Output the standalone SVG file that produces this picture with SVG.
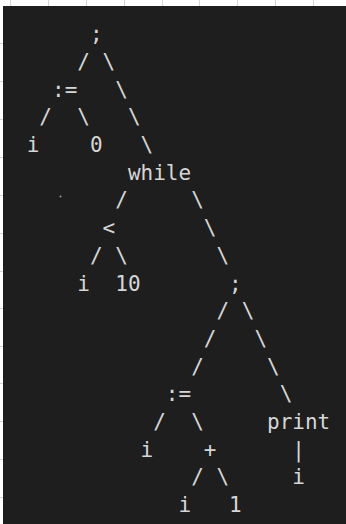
<svg xmlns="http://www.w3.org/2000/svg" width="346" height="524" viewBox="0 0 346 524">
  <style>
    .t { font-family: "DejaVu Sans Mono", "Liberation Mono", monospace; font-size: 21px; fill: #d6d6d6; }
    .grid { stroke: #d4d4d4; stroke-width: 1; }
  </style>
  <rect x="0" y="0" width="346" height="524" fill="#ffffff"/>
  <g id="grid" class="grid">
    <line x1="10.5" y1="0" x2="10.5" y2="6"/>
    <line x1="48.5" y1="0" x2="48.5" y2="6"/>
    <line x1="86.5" y1="0" x2="86.5" y2="6"/>
    <line x1="124.5" y1="0" x2="124.5" y2="6"/>
    <line x1="162.5" y1="0" x2="162.5" y2="6"/>
    <line x1="199.5" y1="0" x2="199.5" y2="6"/>
    <line x1="237.5" y1="0" x2="237.5" y2="6"/>
    <line x1="275.5" y1="0" x2="275.5" y2="6"/>
    <line x1="313.5" y1="0" x2="313.5" y2="6"/>
    <line x1="0" y1="43.5" x2="3" y2="43.5"/>
    <line x1="0" y1="81.5" x2="3" y2="81.5"/>
    <line x1="0" y1="119.5" x2="3" y2="119.5"/>
    <line x1="0" y1="157.5" x2="3" y2="157.5"/>
    <line x1="0" y1="195.5" x2="3" y2="195.5"/>
    <line x1="0" y1="233.5" x2="3" y2="233.5"/>
    <line x1="0" y1="271.5" x2="3" y2="271.5"/>
    <line x1="0" y1="308.5" x2="3" y2="308.5"/>
    <line x1="0" y1="346.5" x2="3" y2="346.5"/>
    <line x1="0" y1="383.5" x2="3" y2="383.5"/>
    <line x1="0" y1="421.5" x2="3" y2="421.5"/>
    <line x1="0" y1="459.5" x2="3" y2="459.5"/>
    <line x1="0" y1="497.5" x2="3" y2="497.5"/>
  </g>
  <rect x="3" y="6" width="343" height="518" fill="#1e1e1e"/>
  <circle cx="60.5" cy="196.5" r="1" fill="#9a9a9a"/>

  <g id="connectors" class="t">
    <text x="77.3" y="68.9">/</text>
    <text x="102.6" y="68.9">\</text>
    <text x="115.25" y="96.6">\</text>
    <text x="39.35" y="124.3">/</text>
    <text x="77.3" y="124.3">\</text>
    <text x="127.9" y="124.3">\</text>
    <text x="140.55" y="152">\</text>
    <text x="115.25" y="207.4">/</text>
    <text x="191.15" y="207.4">\</text>
    <text x="203.8" y="235.1">\</text>
    <text x="89.95" y="262.8">/</text>
    <text x="115.25" y="262.8">\</text>
    <text x="216.45" y="262.8">\</text>
    <text x="216.45" y="318.2">/</text>
    <text x="241.75" y="318.2">\</text>
    <text x="203.8" y="345.9">/</text>
    <text x="254.4" y="345.9">\</text>
    <text x="191.15" y="373.6">/</text>
    <text x="267.05" y="373.6">\</text>
    <text x="279.7" y="401.3">\</text>
    <text x="153.2" y="429">/</text>
    <text x="191.15" y="429">\</text>
    <text x="292.35" y="456.7">|</text>
    <text x="191.15" y="484.4">/</text>
    <text x="216.45" y="484.4">\</text>
  </g>

  <g id="seq1" class="t"><text x="89.95" y="41.2">;</text></g>
  <g id="assign1" class="t"><text x="52" y="96.6">:=</text></g>
  <g id="var-i1" class="t"><text x="26.7" y="152">i</text></g>
  <g id="num-0" class="t"><text x="89.95" y="152">0</text></g>
  <g id="while" class="t"><text x="127.9" y="179.7">while</text></g>
  <g id="lt" class="t"><text x="102.6" y="235.1">&lt;</text></g>
  <g id="var-i2" class="t"><text x="77.3" y="290.5">i</text></g>
  <g id="num-10" class="t"><text x="115.25" y="290.5">10</text></g>
  <g id="seq2" class="t"><text x="229.1" y="290.5">;</text></g>
  <g id="assign2" class="t"><text x="165.85" y="401.3">:=</text></g>
  <g id="print" class="t"><text x="267.05" y="429">print</text></g>
  <g id="var-i3" class="t"><text x="140.55" y="456.7">i</text></g>
  <g id="plus" class="t"><text x="203.8" y="456.7">+</text></g>
  <g id="var-i5" class="t"><text x="292.35" y="484.4">i</text></g>
  <g id="var-i4" class="t"><text x="178.5" y="512.1">i</text></g>
  <g id="num-1" class="t"><text x="229.1" y="512.1">1</text></g>
</svg>
